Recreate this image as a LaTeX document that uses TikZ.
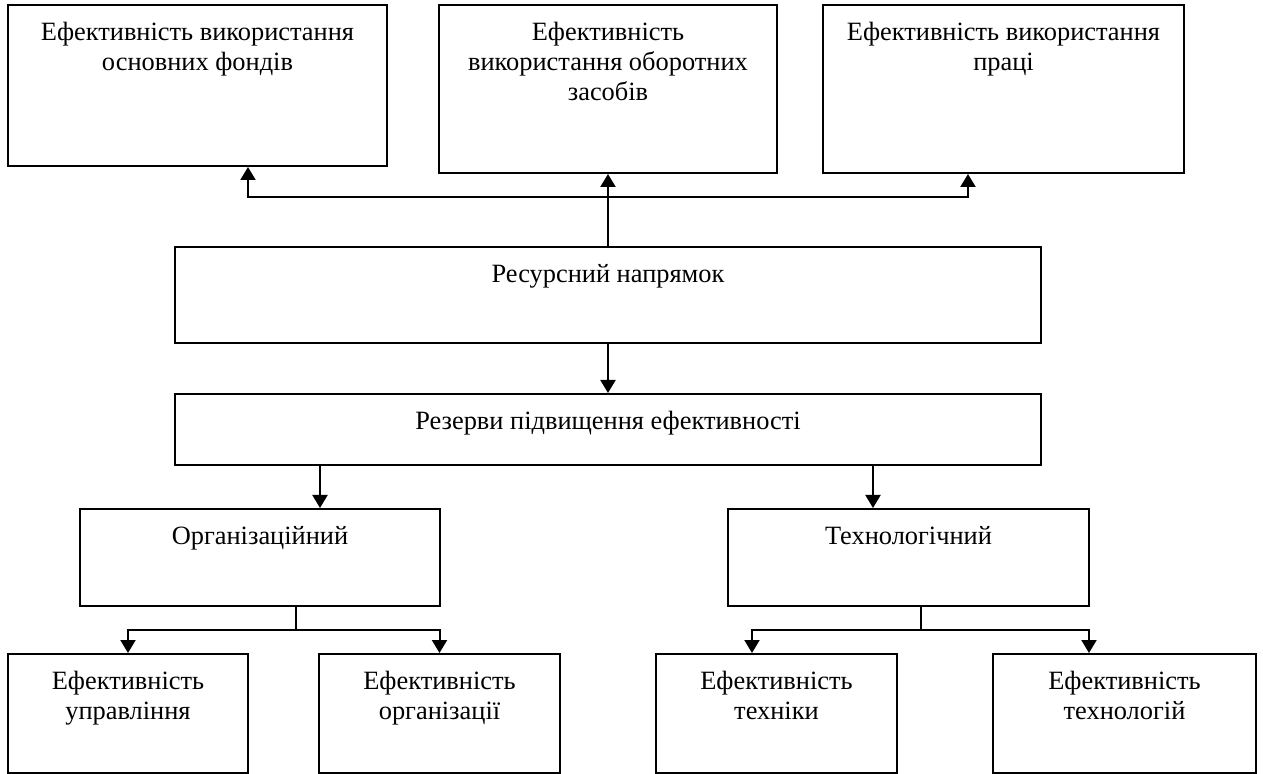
\documentclass[tikz,border=0pt]{standalone}
\usepackage{fontspec}
\setmainfont{Liberation Serif}
\usetikzlibrary{arrows.meta, positioning}

\begin{document}
\begin{tikzpicture}[node distance=24.5pt,
  every node/.style={font=\fontsize{13.2}{15}\selectfont},
  box/.style={draw, line width=1pt, inner sep=0pt},
  txt/.style={align=center, anchor=north, inner sep=0pt, yshift=-9pt},
  arr/.style={line width=1pt, -{Triangle[length=6.5pt,width=7.5pt]}}]
\useasboundingbox (0,0) rectangle (631.5pt,-387pt);
% Top row
\node[box,minimum width=189.5pt,minimum height=80.5pt,label={[txt]north:{Ефективність використання\\основних фондів}}] (Fonds) at (98.75pt,-42.75pt) {};
\node[box,minimum width=169pt,minimum height=84pt,label={[txt]north:{Ефективність\\використання оборотних\\засобів}}] (Oborot) at (304pt,-44.5pt) {};
\node[box,minimum width=180.5pt,minimum height=84pt,label={[txt]north:{Ефективність використання\\праці}}] (Pratsi) at (501.75pt,-44.5pt) {};
% Middle
\node[box,below=36pt of Oborot,minimum width=433pt,minimum height=48pt,label={[txt]north:Ресурсний напрямок}] (Resurs) {};
\node[box,below=of Resurs,minimum width=433pt,minimum height=35.5pt,label={[txt]north:Резерви підвищення ефективності}] (Rezervy) {};
\node[box,minimum width=180pt,minimum height=48.5pt,label={[txt]north:Організаційний}] (Org) at (130pt,-278.75pt) {};
\node[box,minimum width=180.5pt,minimum height=48.5pt,label={[txt]north:Технологічний}] (Tech) at (454.25pt,-278.75pt) {};
% Bottom row
\node[box,minimum width=120pt,minimum height=59.5pt,label={[txt]north:{Ефективність\\управління}}] (Upr) at (64pt,-356.75pt) {};
\node[box,minimum width=120.5pt,minimum height=59.5pt,label={[txt]north:{Ефективність\\організації}}] (Orgz) at (219.75pt,-356.75pt) {};
\node[box,minimum width=120.5pt,minimum height=59.5pt,label={[txt]north:{Ефективність\\техніки}}] (Tekhn) at (388.25pt,-356.75pt) {};
\node[box,minimum width=131.5pt,minimum height=59.5pt,label={[txt]north:{Ефективність\\технологій}}] (Tekhnol) at (562.25pt,-356.75pt) {};
% Arrows
\coordinate (Split) at ([yshift=24.5pt]Resurs.north);
\draw[arr] (Resurs) -- (Oborot);
\draw[arr] (Split) -| ([xshift=25.25pt]Fonds.south);
\draw[arr] (Split) -| ([xshift=-17.75pt]Pratsi.south);
\draw[arr] (Resurs) -- (Rezervy);
\draw[arr] ([xshift=30pt]Org.north |- Rezervy.south) -- ([xshift=30pt]Org.north);
\draw[arr] ([xshift=-17.75pt]Tech.north |- Rezervy.south) -- ([xshift=-17.75pt]Tech.north);
\coordinate (OrgHub) at ([xshift=18pt,yshift=-11.5pt]Org.south);
\coordinate (TechHub) at ([xshift=6.25pt,yshift=-11.5pt]Tech.south);
\draw[line width=1pt] ([xshift=18pt]Org.south) -- (OrgHub);
\draw[arr] (OrgHub) -| (Upr.north);
\draw[arr] (OrgHub) -| (Orgz.north);
\draw[line width=1pt] ([xshift=6.25pt]Tech.south) -- (TechHub);
\draw[arr] (TechHub) -| ([xshift=-12.25pt]Tekhn.north);
\draw[arr] (TechHub) -| ([xshift=-17.75pt]Tekhnol.north);
\end{tikzpicture}
\end{document}
